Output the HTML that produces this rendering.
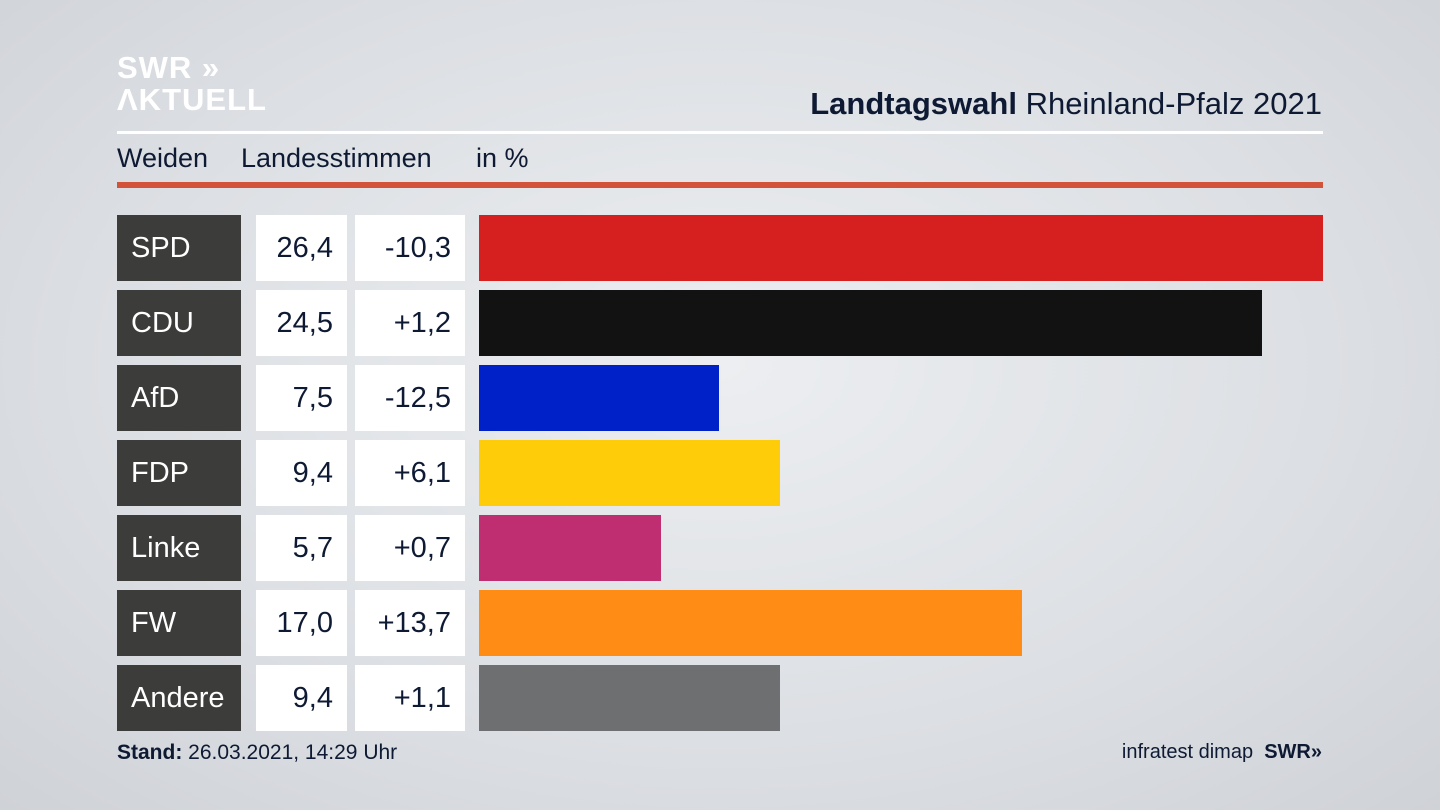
<!DOCTYPE html>
<html><head><meta charset="utf-8"><style>
body{margin:0;width:1440px;height:810px;overflow:hidden;background:radial-gradient(ellipse at 50% 45%,#eceef1 0%,#dcdfe3 60%,#cfd2d7 100%);font-family:"Liberation Sans",sans-serif;color:#0e1a33;position:relative}
.abs{position:absolute}
.row div{position:absolute;height:66px;line-height:66px;font-size:29px}
</style></head><body>
<div class="abs" style="left:117px;top:52px;color:#fff;font-weight:bold;font-size:31px;line-height:32px;letter-spacing:1px">SWR »<br>ΛKTUELL</div>
<div class="abs" style="right:118px;top:86px;font-size:31px"><b>Landtagswahl</b> Rheinland-Pfalz 2021</div>
<div class="abs" style="left:117px;top:131px;width:1206px;height:3px;background:#fff"></div>
<div class="abs" style="left:117px;top:143px;font-size:27px">Weiden</div>
<div class="abs" style="left:241px;top:143px;font-size:27px">Landesstimmen</div>
<div class="abs" style="left:476px;top:143px;font-size:27px">in %</div>
<div class="abs" style="left:117px;top:182px;width:1206px;height:6px;background:#d2533a"></div>
<div id="rows"></div>
<div class="abs" style="left:117px;top:741px;font-size:21px"><b>Stand:</b> 26.03.2021, 14:29 Uhr</div>
<div class="abs" style="right:118px;top:741px;font-size:20px">infratest dimap&nbsp;&nbsp;<b>SWR»</b></div>
<script>
const parties=["SPD","CDU","AfD","FDP","Linke","FW","Andere"];
const values=[26.4,24.5,7.5,9.4,5.7,17.0,9.4];
const diffs=["-10,3","+1,2","-12,5","+6,1","+0,7","+13,7","+1,1"];
const colors=["#d62020","#121212","#0021c8","#ffcc0a","#be2e70","#ff8c14","#6e6f71"];
const x0=479,pxPer=844/26.4,top0=215,pitch=75;
const root=document.getElementById('rows');
parties.forEach((p,i)=>{
  const y=top0+i*pitch;
  const r=document.createElement('div');r.className='row';
  
  
  const lab=document.createElement('div');
  
  
  lab.style.cssText=`left:117px;top:${y}px;width:110px;padding-left:14px;background:#3c3c3b;color:#fff`;
  lab.textContent=p;
  const v=document.createElement('div');
  
  
  v.style.cssText=`left:256px;top:${y}px;width:77px;padding-right:14px;text-align:right;background:#fff`;
  v.textContent=values[i].toFixed(1).replace('.',',');
  const d=document.createElement('div');
  
  
  d.style.cssText=`left:355px;top:${y}px;width:96px;padding-right:14px;text-align:right;background:#fff`;
  d.textContent=diffs[i];
  const b=document.createElement('div');
  
  
  b.style.cssText=`left:${x0}px;top:${y}px;width:${values[i]*pxPer}px;background:${colors[i]}`;
  r.append(lab,v,d,b);root.appendChild(r);
});
</script>
</body></html>
